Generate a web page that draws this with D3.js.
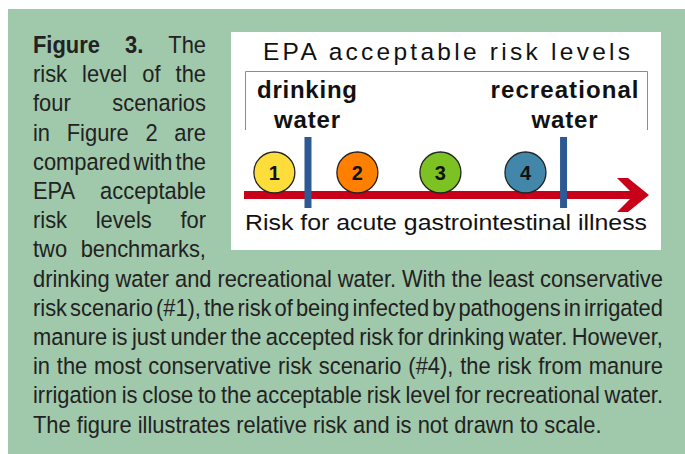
<!DOCTYPE html>
<html>
<head>
<meta charset="utf-8">
<script src="https://cdn.jsdelivr.net/npm/d3@7"></script>
<style>
  html, body { margin: 0; padding: 0; background: #fff; }
  svg { display: block; }
</style>
</head>
<body>
<div id="chart"></div>
<script>
// datos del esquema
const scenarios = ["1", "2", "3", "4"];
const scenarioRisk = [7.5, 28, 48.5, 69.5];
const scenarioColors = ["#fddd3a", "#ff7f00", "#7cc222", "#4287aa"];

const benchmarkNames = [["drinking", "water"], ["recreational", "water"]];
const benchmarkRisk = [15.8, 78.9];

const chartTitle = "EPA acceptable risk levels";
const axisLabel = "Risk for acute gastrointestinal illness";

// pie de figura, una linea por renglon
const captionNarrow = [
    "**Figure 3.** The",
    "risk level of the",
    "four scenarios",
    "in Figure 2 are",
    "compared with the",
    "EPA acceptable",
    "risk levels for",
    "two benchmarks,"
];
const captionWide = [
    "drinking water and recreational water. With the least conservative",
    "risk scenario (#1), the risk of being infected by pathogens in irrigated",
    "manure is just under the accepted risk for drinking water. However,",
    "in the most conservative risk scenario (#4), the risk from manure",
    "irrigation is close to the acceptable risk level for recreational water.",
    "The figure illustrates relative risk and is not drawn to scale."
];

let width = 685, height = 454;

const svg = d3.select('#chart')
    .append('svg')
    .attr('width', width)
    .attr('height', height);

//Fondo verde
svg.append('rect')
    .attr('x', 8).attr('y', 9)
    .attr('width', width - 8).attr('height', height - 9)
    .attr('fill', '#a0c8ab');

//Caja blanca
svg.append('rect')
    .attr('x', 231).attr('y', 32)
    .attr('width', 430).attr('height', 218)
    .attr('fill', '#fff');

let x = d3.scaleLinear().domain([0, 100]).range([244, 649]);

svg.append('text')
    .attr('x', 263).attr('y', 60)
    .attr('textLength', 367).attr('lengthAdjust', 'spacing')
    .style('font-family', 'Liberation Sans, Arial, sans-serif')
    .style('font-size', '24.5px')
    .attr('fill', '#111')
    .text(chartTitle);

//Corchete gris
svg.append('path')
    .attr('d', 'M245.5,130V71.5H647.5V130')
    .attr('fill', 'none')
    .attr('stroke', '#8c8c8c')
    .attr('stroke-width', 1);

//Etiquetas de referencia
const labelLen = {"drinking": 100, "water": 66, "recreational": 148};
benchmarkNames.forEach(function(lines, i) {
    lines.forEach(function(w, j) {
        svg.append('text')
            .attr('x', x(benchmarkRisk[i]) - labelLen[w] / 2 + (i == 0 ? -1 : 1))
            .attr('y', 98 + j * 30)
            .attr('textLength', labelLen[w]).attr('lengthAdjust', 'spacing')
            .style('font-family', 'Liberation Sans, Arial, sans-serif')
            .style('font-weight', 'bold')
            .style('font-size', '24px')
            .attr('fill', '#111')
            .text(w);
    });
});

//Flecha roja
svg.append('rect')
    .attr('x', x(0)).attr('y', 191)
    .attr('width', x(100) - x(0) - 12).attr('height', 8)
    .attr('fill', '#c8001a');
svg.append('path')
    .attr('d', 'M' + (x(100) - 32) + ',178L' + (x(100) - 21) + ',178L' + x(100) + ',195L' +
        (x(100) - 21) + ',212L' + (x(100) - 32) + ',212L' + (x(100) - 15) + ',195Z')
    .attr('fill', '#c8001a');

//Lineas azules
svg.selectAll('.bench')
    .data(benchmarkRisk)
    .enter()
    .append('rect')
    .attr('class', 'bench')
    .attr('x', d => x(d) - 3.5)
    .attr('y', 137)
    .attr('width', 7).attr('height', 71)
    .attr('fill', '#2d5a93');

//Escenarios
let g = svg.selectAll('.scen')
    .data(scenarios)
    .enter()
    .append('g')
    .attr('class', 'scen')
    .attr('transform', (d, i) => 'translate(' + x(scenarioRisk[i]) + ',172.5)');

g.append('circle')
    .attr('r', 20.5)
    .attr('fill', (d, i) => scenarioColors[i])
    .attr('stroke', '#222')
    .attr('stroke-width', 1.3);

g.append('text')
    .attr('text-anchor', 'middle')
    .attr('y', 7)
    .style('font-family', 'Liberation Sans, Arial, sans-serif')
    .style('font-weight', 'bold')
    .style('font-size', '20px')
    .attr('fill', '#111')
    .text(d => d);

svg.append('text')
    .attr('x', 245).attr('y', 230)
    .attr('textLength', 402).attr('lengthAdjust', 'spacingAndGlyphs')
    .style('font-family', 'Liberation Sans, Arial, sans-serif')
    .style('font-size', '22px')
    .attr('fill', '#111')
    .text(axisLabel);

//Texto justificado (letra estrecha simulada con escala horizontal)
const capFont = 'Liberation Sans, Arial, sans-serif';
const capSize = 23.5;
let meter = svg.append('text')
    .style('font-family', capFont)
    .style('font-size', capSize + 'px')
    .attr('x', -1000).attr('y', -1000);

function measure(word, bold) {
    meter.style('font-weight', bold ? 'bold' : 'normal').text(word);
    return meter.node().getComputedTextLength();
}

function parseLine(line) {
    let words = [];
    let parts = line.split('**');
    parts.forEach(function(p, k) {
        p.split(' ').filter(w => w.length).forEach(function(w) {
            words.push({t: w, bold: k % 2 == 1});
        });
    });
    words.forEach(w => w.w = measure(w.t, w.bold));
    return words;
}

let spaceW = measure('a a', false) - measure('aa', false);

let lines = [];
captionNarrow.forEach((l, i) => lines.push({words: parseLine(l), x0: 33, W: 173, i: i, last: false}));
captionWide.forEach((l, i) => lines.push({words: parseLine(l), x0: 33, W: 630, i: i + 8, last: i == captionWide.length - 1}));

let scale = d3.min(lines.filter(l => !l.last), function(l) {
    let sum = d3.sum(l.words, w => w.w);
    return l.W / (sum + 0.5 * spaceW * (l.words.length - 1));
});

meter.remove();

lines.forEach(function(l) {
    let sum = d3.sum(l.words, w => w.w) * scale;
    let gap = l.last ? spaceW * scale : (l.W - sum) / (l.words.length - 1);
    let cx = l.x0;
    let y = 53 + l.i * 29.2;
    l.words.forEach(function(w) {
        svg.append('text')
            .attr('transform', 'translate(' + cx + ',' + y + ') scale(' + scale + ',1)')
            .style('font-family', capFont)
            .style('font-size', capSize + 'px')
            .style('font-weight', w.bold ? 'bold' : 'normal')
            .attr('fill', '#222')
            .text(w.t);
        cx += w.w * scale + gap;
    });
});
</script>
</body>
</html>
